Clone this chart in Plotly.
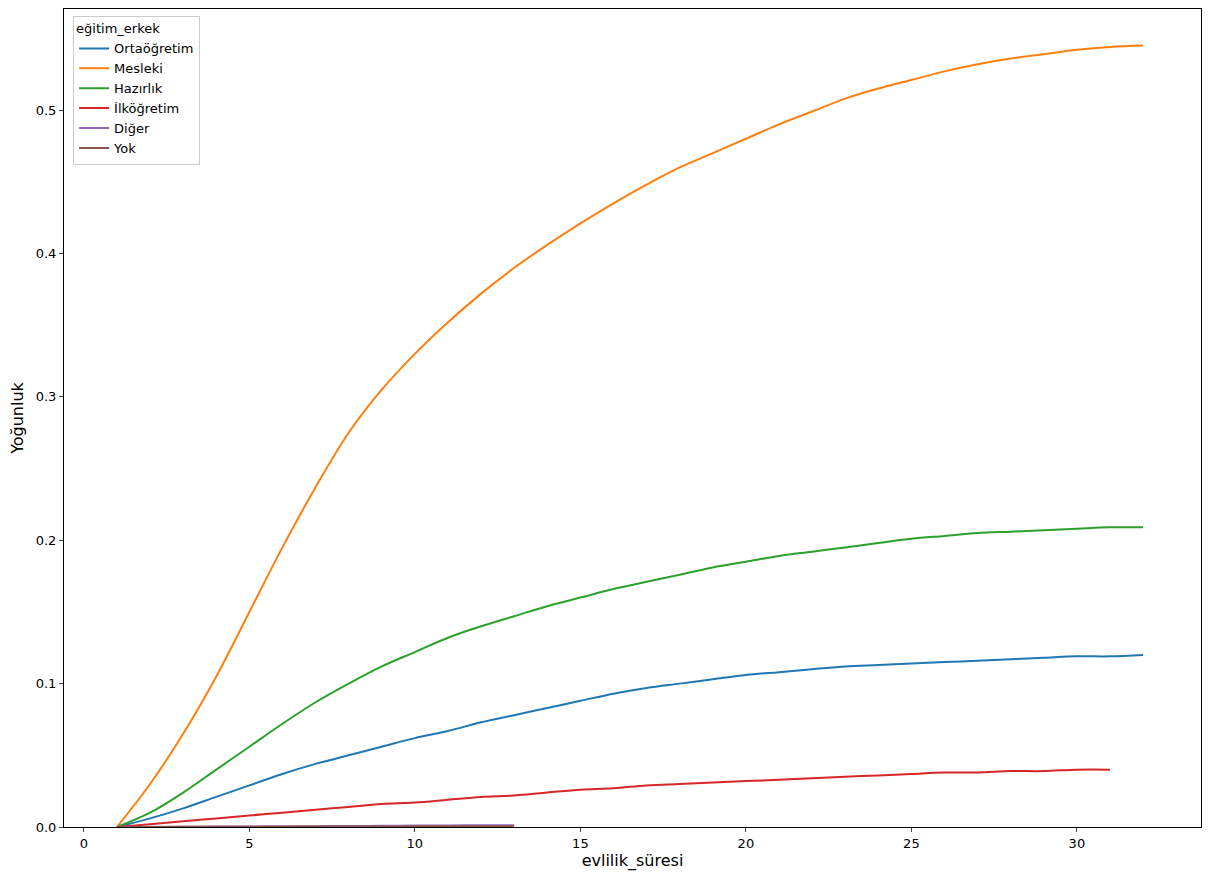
import plotly.graph_objects as go

x_full = list(range(1, 33))
x_red = list(range(1, 32))
x_small = list(range(1, 14))

orta = [0, 0.006, 0.013, 0.021, 0.029, 0.037, 0.044, 0.050, 0.056, 0.062, 0.067, 0.073, 0.078, 0.083, 0.088,
        0.093, 0.097, 0.100, 0.103, 0.106, 0.108, 0.110, 0.112, 0.113, 0.114, 0.115, 0.116, 0.117, 0.118, 0.119, 0.119, 0.120]
mesleki = [0, 0.030, 0.065, 0.105, 0.150, 0.195, 0.237, 0.275, 0.305, 0.330, 0.352, 0.372, 0.390, 0.406, 0.421,
           0.435, 0.448, 0.460, 0.470, 0.480, 0.490, 0.499, 0.508, 0.515, 0.521, 0.527, 0.532, 0.536, 0.539, 0.542, 0.544, 0.545]
hazirlik = [0, 0.010, 0.024, 0.040, 0.056, 0.072, 0.087, 0.100, 0.112, 0.122, 0.132, 0.140, 0.147, 0.154, 0.160,
            0.166, 0.171, 0.176, 0.181, 0.185, 0.189, 0.192, 0.195, 0.198, 0.201, 0.203, 0.205, 0.206, 0.207, 0.208, 0.209, 0.209]
ilk = [0, 0.002, 0.004, 0.006, 0.008, 0.010, 0.012, 0.014, 0.016, 0.017, 0.019, 0.021, 0.022, 0.024, 0.026,
       0.027, 0.029, 0.030, 0.031, 0.032, 0.033, 0.034, 0.035, 0.036, 0.037, 0.038, 0.038, 0.039, 0.039, 0.040, 0.040]
diger = [0, 0.0001, 0.0002, 0.0003, 0.0004, 0.0005, 0.0006, 0.0007, 0.0008, 0.0010, 0.0011, 0.0012, 0.0013]
yok = [0, 0.00005, 0.0001, 0.00015, 0.0002, 0.00025, 0.0003, 0.00035, 0.0004, 0.00045, 0.0005, 0.00055, 0.0006]

series = [
    ("Ortaöğretim", x_full, orta, "#1f77b4"),
    ("Mesleki", x_full, mesleki, "#ff7f0e"),
    ("Hazırlık", x_full, hazirlik, "#2ca02c"),
    ("İlköğretim", x_red, ilk, "#d62728"),
    ("Diğer", x_small, diger, "#9467bd"),
    ("Yok", x_small, yok, "#8c564b"),
]

fig = go.Figure()
for name, xs, ys, c in series:
    fig.add_trace(go.Scatter(x=xs, y=ys, name=name, mode="lines", line=dict(color=c, width=2, shape="spline")))

axis = dict(showline=True, mirror=True, linecolor="black", linewidth=1, ticks="outside", ticklen=4,
            showgrid=False, zeroline=False, tickfont=dict(size=13, color="black"))
fig.update_layout(
    width=1216, height=880, paper_bgcolor="white", plot_bgcolor="white",
    margin=dict(l=56, r=23, t=1, b=61),
    font=dict(family="DejaVu Sans", size=13, color="black"),
    xaxis=dict(axis, range=[-0.6, 33.75], tickvals=[0, 5, 10, 15, 20, 25, 30],
               title=dict(text="evlilik_süresi", standoff=4)),
    yaxis=dict(axis, range=[0, 0.5705], tickvals=[0, 0.1, 0.2, 0.3, 0.4, 0.5], tickformat=".1f",
               title=dict(text="Yoğunluk", standoff=8)),
    legend=dict(x=0.008, y=0.992, xanchor="left", yanchor="top", bordercolor="#cccccc", borderwidth=1,
                title=dict(text="eğitim_erkek", side="top", font=dict(size=13)), bgcolor="white"),
)
fig.write_html("out.html")
